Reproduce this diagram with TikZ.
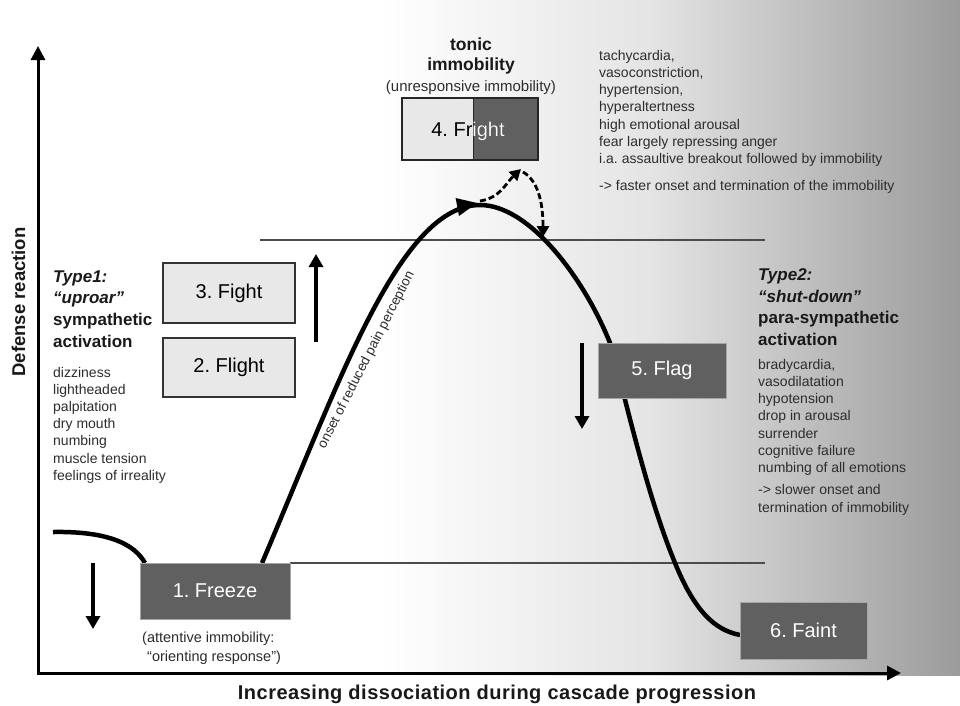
\documentclass[tikz,border=0pt]{standalone}
\usepackage{fontspec}
\setmainfont{Liberation Sans}
\frenchspacing
\usetikzlibrary{arrows.meta,calc}
\definecolor{boxdark}{RGB}{96,96,96}
\definecolor{boxlight}{RGB}{232,232,232}
\definecolor{bgmid}{RGB}{228,228,228}
\definecolor{bgend}{RGB}{155,155,155}
\definecolor{txt}{RGB}{45,45,45}
\begin{document}
\begin{tikzpicture}[x=1pt,y=-1pt,
  darkbox/.style={draw=gray!70, line width=0.8pt, fill=boxdark, text=white, font=\fontsize{20}{24}\selectfont, inner sep=0pt},
  lightbox/.style={draw=black!80, line width=1.2pt, fill=boxlight, text=black, font=\fontsize{20}{24}\selectfont, inner sep=0pt},
  listtxt/.style={anchor=base west, inner sep=0pt, text=txt, font=\fontsize{14}{17}\selectfont},
  headtxt/.style={anchor=base west, inner sep=0pt, text=black!90, font=\fontsize{17}{20}\selectfont\bfseries},
  headit/.style={anchor=base west, inner sep=0pt, text=black!90, font=\fontsize{17}{20}\selectfont\bfseries\itshape},
  bigarrow/.style={line width=4pt, -{Triangle[width=14pt,length=13pt]}},
  axisline/.style={line width=3pt, {Triangle[width=14pt,length=14pt]}-{Triangle[width=14pt,length=14pt]}},
  curveline/.style={line width=4.5pt, black},
  dasharrow/.style={line width=2.8pt, dash pattern=on 6pt off 3pt, -{Triangle[width=12pt,length=11pt]}},
  levelline/.style={line width=1.3pt, black!70},
]
\useasboundingbox (0,0) rectangle (960,705);
\fill[white] (0,0) rectangle (960,705);
% background gradient
\shade[left color=white, right color=bgmid] (380,0) rectangle (650,675);
\shade[left color=bgmid, right color=bgend] (650,0) rectangle (960,675);

% level lines
\coordinate (hiL) at (260,240);
\coordinate (hiR) at (765,240);
\coordinate (loL) at (290,563);
\coordinate (loR) at (765,563);
\draw[levelline] (hiL) -- (hiR);
\draw[levelline] (loL) -- (loR);

% curve
\coordinate (s0) at (53,532);
\coordinate (s1) at (145,563);
\coordinate (c0) at (262,563);
\coordinate (peak) at (480,205);
\coordinate (c2) at (610,343);
\coordinate (c3) at (675,563);
\coordinate (c4) at (740,635);
\draw[curveline] (s0) .. controls (110,531) and (135,545) .. (s1);
\draw[curveline] (c0) .. controls (340,380) and (400,205) .. (peak)
  .. controls (530,205) and (585,280) .. (c2)
  .. controls (625,395) and (645,490) .. (c3)
  .. controls (695,612) and (715,630) .. (c4);
\fill (477,203) -- (459,216) -- (455.6,198) -- cycle;

% dashed arrows
\coordinate (d0) at (480,201);
\coordinate (d1) at (521,169);
\coordinate (d2) at (523,172);
\coordinate (d3) at (543,237);
\draw[dasharrow] (d0) .. controls (500,198) and (506,183) .. (d1);
\draw[dasharrow] (d2) .. controls (537,180) and (543,200) .. (d3);

% text along curve
\node[rotate=63, inner sep=0pt, text=txt, font=\fontsize{13.5}{16}\selectfont] (pain) at (366.5,360) {onset of reduced pain perception};

% boxes
\node[darkbox, minimum width=150pt, minimum height=56pt] (freeze) at (215,591) {1. Freeze};
\node[lightbox, minimum width=132pt, minimum height=59pt] (flight) at (229,367.5) {2. Flight};
\node[lightbox, minimum width=132pt, minimum height=60pt] (fight) at (229,293) {3. Fight};
\node[darkbox, minimum width=128pt, minimum height=55pt] (flag) at (662,370.5) {5. Flag};
\node[darkbox, minimum width=127pt, minimum height=57pt] (faint) at (803.5,630.5) {6. Faint};

% fright box
\fill[boxlight] (402,98) rectangle (473,160);
\fill[boxdark] (473,98) rectangle (538,160);
\draw[black!85, line width=1pt] (473,98) -- (473,160);
\node[draw=black!85, line width=1.5pt, minimum width=136pt, minimum height=62pt, inner sep=0pt] (fright) at (470,129) {};
\node[inner sep=0pt, text=black, font=\fontsize{20}{24}\selectfont] (frighttxt) at (468,131) {4. Fright};
\begin{scope}
\clip (473.5,98) rectangle (538,160);
\node[inner sep=0pt, text=white, font=\fontsize{20}{24}\selectfont] (frighttxtw) at (468,131) {4. Fright};
\end{scope}

% tonic immobility
\node[anchor=base, inner sep=0pt, text=black!90, font=\fontsize{17.5}{20}\selectfont\bfseries] (tonic) at (471,50) {tonic};
\node[anchor=base, inner sep=0pt, text=black!90, font=\fontsize{17.5}{20}\selectfont\bfseries] (immob) at (471,70) {immobility};
\node[anchor=base, inner sep=0pt, text=txt, font=\fontsize{15}{18}\selectfont] (unresp) at (471,91) {(unresponsive immobility)};

% freeze subtitle
\node[listtxt, font=\fontsize{14.5}{17}\selectfont] (att1) at (142,642) {(attentive immobility:};
\node[listtxt, font=\fontsize{14.5}{17}\selectfont] (att2) at (147,661) {“orienting response”)};

% arrows
\coordinate (a1s) at (93,563); \coordinate (a1e) at (93,629);
\coordinate (a2s) at (316,342); \coordinate (a2e) at (316,254);
\coordinate (a3s) at (582,343); \coordinate (a3e) at (582,429);
\draw[bigarrow] (a1s) -- (a1e);
\draw[bigarrow] (a2s) -- (a2e);
\draw[bigarrow] (a3s) -- (a3e);

% axes
\coordinate (ytop) at (38,46);
\coordinate (origin) at (38,673);
\coordinate (xend) at (901,673);
\draw[axisline] (ytop) -- (origin) -- (xend);
\node[anchor=base, inner sep=0pt, text=black!90, font=\fontsize{20}{24}\selectfont\bfseries\addfontfeatures{LetterSpace=2.5}] (xlabel) at (497,699) {Increasing dissociation during cascade progression};
\node[anchor=base, rotate=90, inner sep=0pt, text=black!90, font=\fontsize{18.5}{22}\selectfont\bfseries] (ylabel) at (25,302) {Defense reaction};

% left text
\node[headit] (t1a) at (53,282) {Type1:};
\node[headit] (t1b) at (53,303.5) {“uproar”};
\node[headtxt] (t1c) at (53,325) {sympathetic};
\node[headtxt] (t1d) at (53,347) {activation};
\foreach \t [count=\i from 0] in {dizziness,lightheaded,palpitation,dry mouth,numbing,muscle tension,feelings of irreality}
  \node[listtxt] (l\i) at (53,377+17.2*\i) {\t};

% right text
\node[headit] (t2a) at (758,280) {Type2:};
\node[headit] (t2b) at (758,302) {“shut-down”};
\node[headtxt] (t2c) at (758,323.5) {para-sympathetic};
\node[headtxt] (t2d) at (758,345) {activation};
\foreach \t [count=\i from 0] in {{bradycardia,},vasodilatation,hypotension,drop in arousal,surrender,cognitive failure,numbing of all emotions}
  \node[listtxt] (r\i) at (758,369+17.3*\i) {\t};
\node[listtxt] (r7) at (758,494) {-> slower onset and};
\node[listtxt] (r8) at (758,512) {termination of immobility};

% top right text
\foreach \t [count=\i from 0] in {{tachycardia,},{vasoconstriction,},{hypertension,},hyperaltertness,high emotional arousal,fear largely repressing anger,i.a. assaultive breakout followed by immobility}
  \node[listtxt] (tr\i) at (599,60+17.3*\i) {\t};
\node[listtxt] (tr7) at (599,190) {-> faster onset and termination of the immobility};
\end{tikzpicture}
\end{document}
